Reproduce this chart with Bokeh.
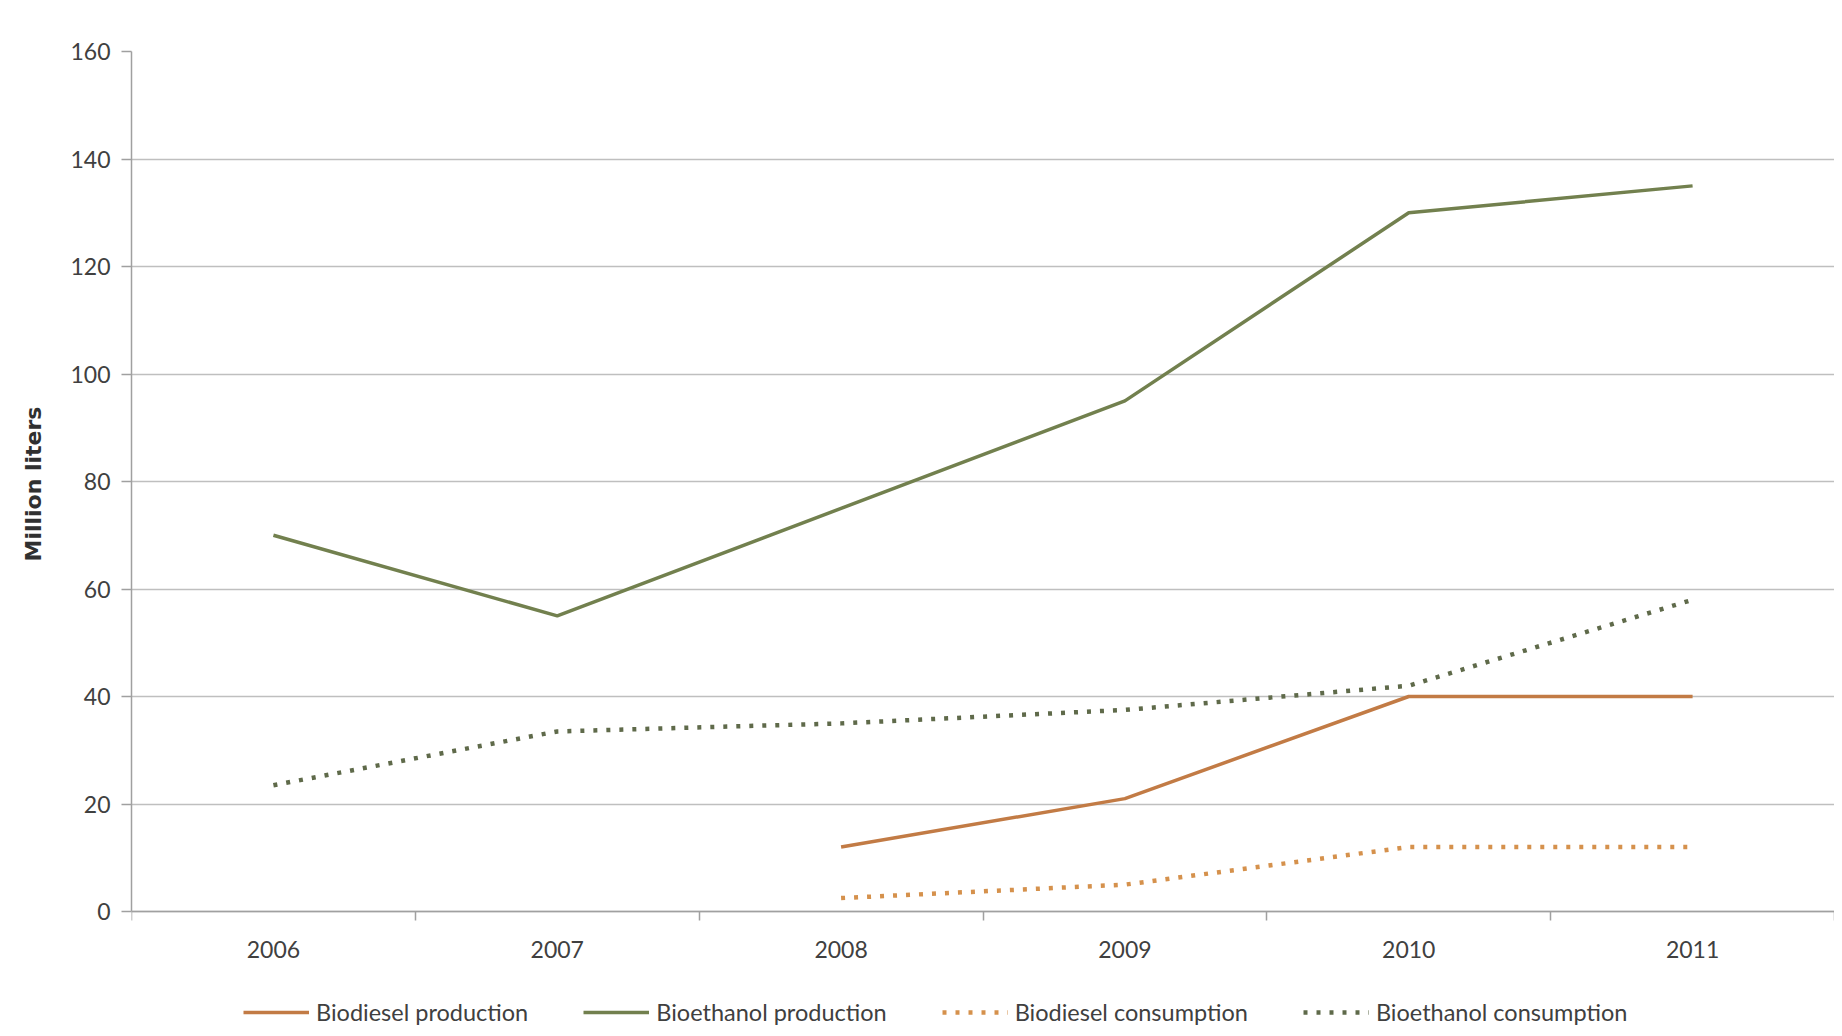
from bokeh.plotting import figure
from bokeh.models import Range1d, FixedTicker, Legend, LegendItem, Title
from bokeh.embed import file_html
from bokeh.resources import INLINE

years_all = [2006, 2007, 2008, 2009, 2010, 2011]
bioethanol_production = [70, 55, 75, 95, 130, 135]
bioethanol_consumption = [23.5, 33.5, 35, 37.5, 42, 58]
years_biodiesel = [2008, 2009, 2010, 2011]
biodiesel_production = [12, 21, 40, 40]
biodiesel_consumption = [2.5, 5, 12, 12]
y_ticks = [0, 20, 40, 60, 80, 100, 120, 140, 160]
x_minor = [2005.5, 2006.5, 2007.5, 2008.5, 2009.5, 2010.5, 2011.5]

FONT = "Lato"
TEXT = "#404040"
GRID = "#BFBFBF"

H = 1028
TOP = 51
PX_PER_UNIT = 860 / 160.0
y_low = -((H - TOP) / PX_PER_UNIT - 160)  # frame extends below 0 to host the legend

p = figure(width=1834, height=H, output_backend="svg", toolbar_location=None,
           x_range=Range1d(2005.5, 2011.5), y_range=Range1d(y_low, 160),
           min_border_left=131, min_border_right=0, min_border_top=TOP,
           min_border_bottom=0)
p.outline_line_color = None
p.background_fill_color = "white"

c_bd = "#C27B45"
c_be = "#72804E"
c_bdc = "#D5914C"
c_bec = "#5F6A4A"

r1 = p.line(years_biodiesel, biodiesel_production, line_color=c_bd, line_width=3.5)
r2 = p.line(years_all, bioethanol_production, line_color=c_be, line_width=3.5)
r3 = p.line(years_biodiesel, biodiesel_consumption, line_color=c_bdc, line_width=4.5,
            line_dash="4 9")
r4 = p.line(years_all, bioethanol_consumption, line_color=c_bec, line_width=4.5,
            line_dash="4 9")

# axes
p.xaxis.fixed_location = 0
p.xaxis.ticker = FixedTicker(ticks=years_all, minor_ticks=x_minor)
p.xaxis.major_tick_line_color = None
p.xaxis.minor_tick_line_color = "#A0A0A0"
p.xaxis.minor_tick_line_width = 1.5
p.xaxis.minor_tick_in = 0
p.xaxis.minor_tick_out = 9
p.xaxis.axis_line_color = "#A0A0A0"
p.xaxis.axis_line_width = 1.5
p.xaxis.major_label_text_font = FONT
p.xaxis.major_label_text_font_size = "23px"
p.xaxis.major_label_text_color = TEXT
p.xaxis.major_label_standoff = 20

p.yaxis.bounds = (0, 160)
p.yaxis.ticker = FixedTicker(ticks=y_ticks)
p.yaxis.minor_tick_line_color = None
p.yaxis.major_tick_line_color = "#A0A0A0"
p.yaxis.major_tick_line_width = 1.5
p.yaxis.major_tick_in = 0
p.yaxis.major_tick_out = 10
p.yaxis.axis_line_color = "#A0A0A0"
p.yaxis.axis_line_width = 1.5
p.yaxis.major_label_text_font = FONT
p.yaxis.major_label_text_font_size = "23px"
p.yaxis.major_label_text_color = TEXT
p.yaxis.major_label_standoff = 11

ytitle = Title(text="Million liters", align="left", offset=467, standoff=40,
               vertical_align="top",
               text_font="DejaVu Sans", text_font_style="bold",
               text_font_size="22px", text_color="#303030")
p.add_layout(ytitle, "left")

p.xgrid.grid_line_color = None
p.ygrid.ticker = FixedTicker(ticks=y_ticks)
p.ygrid.grid_line_color = GRID
p.ygrid.grid_line_width = 1.5

legend = Legend(items=[
    LegendItem(label="Biodiesel production", renderers=[r1]),
    LegendItem(label="Bioethanol production", renderers=[r2]),
    LegendItem(label="Biodiesel consumption", renderers=[r3]),
    LegendItem(label="Bioethanol consumption", renderers=[r4]),
], orientation="horizontal", location=(112, 2))
legend.label_text_font = FONT
legend.label_text_font_size = "23.5px"
legend.label_text_color = TEXT
legend.glyph_width = 66
legend.glyph_height = 22
legend.label_height = 22
legend.label_standoff = 7
legend.spacing = 55
legend.padding = 0
legend.margin = 0
legend.border_line_color = None
legend.background_fill_alpha = 0
p.add_layout(legend, "center")

open("out.html", "w").write(file_html(p, INLINE))
